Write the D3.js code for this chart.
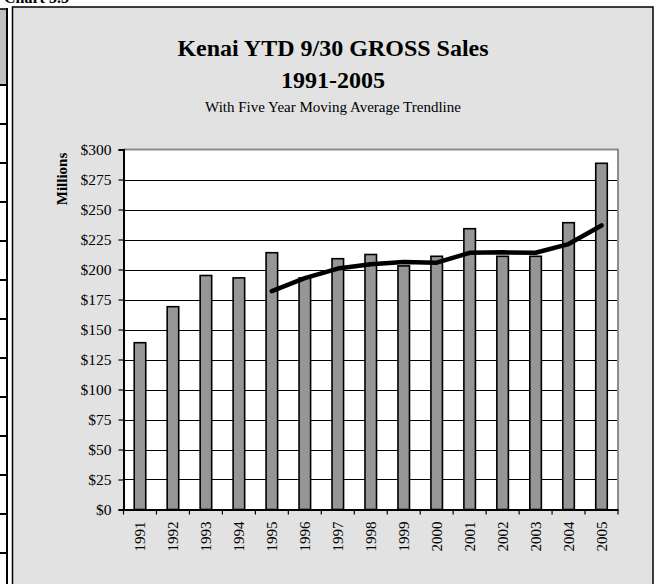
<!DOCTYPE html>
<html>
<head>
<meta charset="utf-8">
<script src="https://cdn.jsdelivr.net/npm/d3@7"></script>
<style>
  html, body { margin: 0; padding: 0; background: #fff; }
  svg { display: block; }
  text { font-family: "Liberation Serif", "Times New Roman", serif; fill: #000; }
</style>
</head>
<body>
<svg id="chart" width="657" height="584"></svg>
<script>
// ---- data ----
const years = ["1991","1992","1993","1994","1995","1996","1997","1998","1999","2000","2001","2002","2003","2004","2005"];
const sales = [139, 169, 195, 193, 214, 193, 209, 212.5, 203, 211, 234, 211, 211, 239, 288.5];
const trendYears = ["1995","1996","1997","1998","1999","2000","2001","2002","2003","2004","2005"];
const trendValues = [182, 192.8, 200.8, 204.3, 206.3, 205.7, 213.9, 214.3, 214, 221.2, 236.7];
const yTicks = [0, 25, 50, 75, 100, 125, 150, 175, 200, 225, 250, 275, 300];
const titleLines = ["Kenai YTD 9/30 GROSS Sales", "1991-2005"];
const subtitle = "With Five Year Moving Average Trendline";
const yAxisTitle = "Millions";

const svg = d3.select("#chart");

// ---- left partial table (page fragment) ----
const tableRows = d3.range(85, 600, 39);
svg.append("rect").attr("x", 0).attr("y", 9).attr("width", 7).attr("height", 76).attr("fill", "#c0c0c0");
svg.append("line").attr("x1", 0).attr("x2", 8).attr("y1", 9).attr("y2", 9).attr("stroke", "#000").attr("stroke-width", 1.5);
svg.selectAll(".trow").data(tableRows).enter().append("line")
  .attr("x1", 0).attr("x2", 8).attr("y1", d => d).attr("y2", d => d)
  .attr("stroke", "#000").attr("stroke-width", 2);
svg.append("line").attr("x1", 7).attr("x2", 7).attr("y1", 8).attr("y2", 584).attr("stroke", "#000").attr("stroke-width", 2);

// cut-off heading above
svg.append("text").attr("x", 4).attr("y", 3).attr("font-size", 16).attr("font-weight", "bold").text("Chart 3.3");

// ---- chart frame ----
svg.append("rect").attr("x", 12.5).attr("y", 7).attr("width", 640.5).attr("height", 600)
  .attr("fill", "#e2e2e2").attr("stroke", "#000").attr("stroke-width", 1.5);

// ---- titles ----
const cx = 333;
svg.append("text").attr("x", cx).attr("y", 56).attr("text-anchor", "middle")
  .attr("font-size", 24).attr("font-weight", "bold").text(titleLines[0]);
svg.append("text").attr("x", cx).attr("y", 88).attr("text-anchor", "middle")
  .attr("font-size", 24).attr("font-weight", "bold").text(titleLines[1]);
svg.append("text").attr("x", cx).attr("y", 112).attr("text-anchor", "middle")
  .attr("font-size", 15).text(subtitle);

// ---- scales ----
const plot = { left: 123.5, right: 618, top: 149.5, bottom: 509.5 };
const x = d3.scaleBand().domain(years).range([plot.left, plot.right]).padding(0);
const y = d3.scaleLinear().domain([0, 300]).range([plot.bottom, plot.top]);

// plot background
svg.append("rect").attr("x", plot.left).attr("y", plot.top)
  .attr("width", plot.right - plot.left).attr("height", plot.bottom - plot.top).attr("fill", "#fff");

// gridlines
svg.append("g").selectAll("line").data(yTicks.filter(d => d > 0 && d < 300)).enter().append("line")
  .attr("x1", plot.left).attr("x2", plot.right)
  .attr("y1", d => Math.round(y(d)) + 0.5).attr("y2", d => Math.round(y(d)) + 0.5)
  .attr("stroke", "#000").attr("stroke-width", 1);

// top & right gray border
svg.append("path")
  .attr("d", `M${plot.left},${plot.top}H${plot.right}V${plot.bottom}`)
  .attr("fill", "none").attr("stroke", "#8c8c8c").attr("stroke-width", 2);

// bars
const barW = x.bandwidth() * 0.35;
svg.append("g").selectAll("rect").data(years).enter().append("rect")
  .attr("x", d => x(d) + (x.bandwidth() - barW) / 2)
  .attr("y", (d, i) => y(sales[i]))
  .attr("width", barW)
  .attr("height", (d, i) => y(0) - y(sales[i]))
  .attr("fill", "#969696").attr("stroke", "#000").attr("stroke-width", 1.6);

// y axis
const yAxis = d3.axisLeft(y).tickValues(yTicks).tickFormat(d => "$" + d).tickSize(5).tickPadding(7);
const gy = svg.append("g").attr("transform", `translate(${plot.left},0)`).call(yAxis);
gy.select(".domain").attr("stroke", "#000").attr("stroke-width", 2);
gy.selectAll(".tick line").attr("stroke", "#000").attr("stroke-width", 1.2);
gy.selectAll(".tick text").attr("font-size", 15.5).attr("font-family", "Liberation Serif, serif").attr("fill", "#000");

// x axis
const xAxis = d3.axisBottom(x).tickSize(0).tickPadding(0);
const gx = svg.append("g").attr("transform", `translate(0,${plot.bottom})`).call(xAxis);
gx.select(".domain").attr("stroke", "#000").attr("stroke-width", 2);
gx.selectAll(".tick text")
  .attr("font-size", 15).attr("font-family", "Liberation Serif, serif").attr("fill", "#000")
  .attr("transform", "rotate(-90)")
  .attr("x", -12).attr("y", 0).attr("dy", "0.35em")
  .attr("text-anchor", "end");
// category boundary ticks
const bounds = years.map(d => x(d)).concat([plot.right]);
svg.append("g").selectAll("line").data(bounds).enter().append("line")
  .attr("x1", d => d).attr("x2", d => d)
  .attr("y1", plot.bottom).attr("y2", plot.bottom + 5)
  .attr("stroke", "#000").attr("stroke-width", 1.2);

// trendline
const line = d3.line()
  .x((d, i) => x(trendYears[i]) + x.bandwidth() / 2)
  .y(d => y(d));
svg.append("path").datum(trendValues).attr("d", line)
  .attr("fill", "none").attr("stroke", "#000").attr("stroke-width", 4.5)
  .attr("stroke-linejoin", "round").attr("stroke-linecap", "round");

// y axis title
svg.append("text").attr("transform", "translate(67,179) rotate(-90)")
  .attr("text-anchor", "middle").attr("font-size", 15).attr("font-weight", "bold").text(yAxisTitle);
</script>
</body>
</html>
